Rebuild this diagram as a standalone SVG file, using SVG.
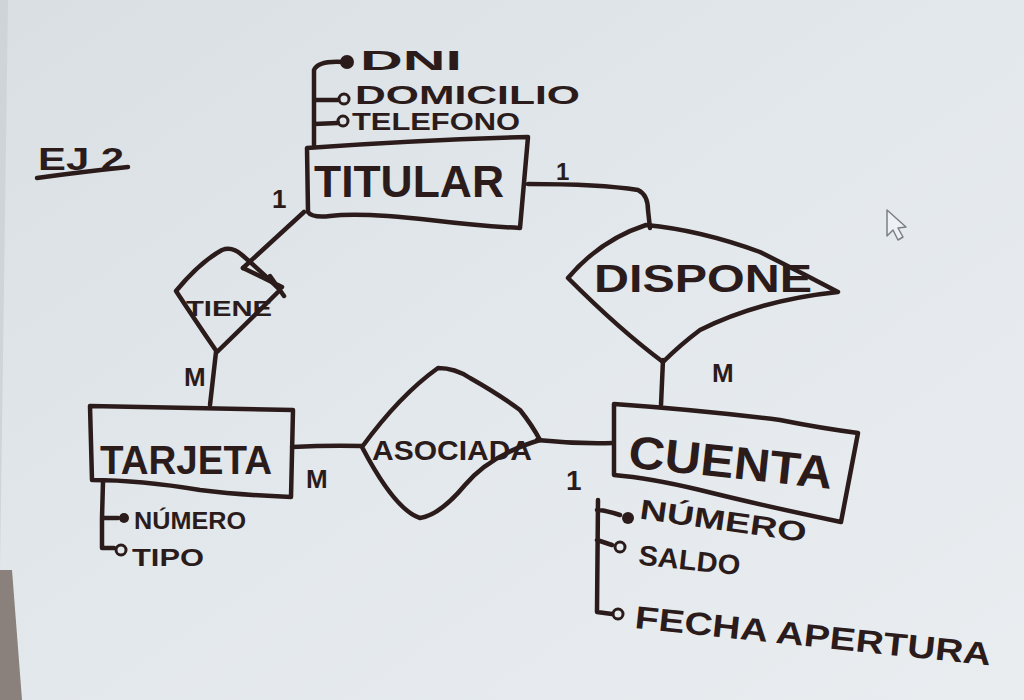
<svg xmlns="http://www.w3.org/2000/svg" width="1024" height="700" viewBox="0 0 1024 700">
<defs>
<linearGradient id="bg" x1="0" y1="0" x2="1" y2="1">
<stop offset="0" stop-color="#d9dfe3"/>
<stop offset="0.5" stop-color="#e3e8ec"/>
<stop offset="1" stop-color="#e9edf0"/>
</linearGradient>
<style>
.ink{fill:none;stroke:#2b1c1b;stroke-width:4.5;stroke-linecap:round;stroke-linejoin:round}
.t{font-family:"Liberation Sans",Arial,sans-serif;font-weight:bold;fill:#2b1c1b}
.dot{fill:#2b1c1b}
.hol{fill:none;stroke:#2b1c1b;stroke-width:3}
</style>
</defs>
<rect width="1024" height="700" fill="url(#bg)"/>
<polygon points="0,570 12,570 22,700 0,700" fill="#8a807c"/>
<polygon points="0,0 8,0 0,570" fill="#cfd4d8"/>

<g id="title">
<text class="t" x="38" y="170" font-size="32" textLength="86" lengthAdjust="spacingAndGlyphs">EJ 2</text>
<path class="ink" d="M37,178 Q80,172 128,167"/>
</g>

<g id="connectors">
<path class="ink" d="M528,184 Q600,184 638,190 Q648,195 648,210 L650,228"/>
<path class="ink" d="M663,360 L661,405"/>
<path class="ink" d="M304,212 L243,268"/>
<path class="ink" d="M243,268 L282,287 M270,276 L284,296"/>
<path class="ink" d="M216,352 L210,405"/>
<path class="ink" d="M292,447 Q330,445 362,446"/>
<path class="ink" d="M537,440 Q575,444 613,443"/>
</g>

<g id="cardinalities">
<text class="t" x="272" y="208" font-size="26">1</text>
<text class="t" x="556" y="180" font-size="24">1</text>
<text class="t" x="184" y="386" font-size="26">M</text>
<text class="t" x="712" y="382" font-size="26">M</text>
<text class="t" x="306" y="488" font-size="26">M</text>
<text class="t" x="566" y="490" font-size="28">1</text>
</g>

<g id="titular">
<path class="ink" d="M307,148 Q420,140 528,137 L520,228 Q480,226 430,220 Q360,212 330,216 Q312,218 308,212 Z"/>
<text class="t" x="314" y="197" font-size="44" textLength="190" lengthAdjust="spacingAndGlyphs">TITULAR</text>
</g>

<g id="titular-attrs">
<path class="ink" d="M345,62 Q318,60 314,70 L314,145 M314,100 L338,100 M314,124 L338,123"/>
<circle class="dot" cx="347" cy="62" r="7"/>
<circle class="hol" cx="344" cy="99" r="5"/>
<circle class="hol" cx="343" cy="121" r="5"/>
<text class="t" x="360" y="70" font-size="28" textLength="102" lengthAdjust="spacingAndGlyphs">DNI</text>
<text class="t" x="355" y="104" font-size="26" textLength="225" lengthAdjust="spacingAndGlyphs">DOMICILIO</text>
<text class="t" x="352" y="130" font-size="23" textLength="168" lengthAdjust="spacingAndGlyphs">TELEFONO</text>
</g>

<g id="tiene">
<path class="ink" d="M176,291 Q200,262 222,250 Q232,246 242,255 Q262,272 280,290 Q250,320 217,352 Q195,320 176,291 Z"/>
<text class="t" x="186" y="316" font-size="22" textLength="86" lengthAdjust="spacingAndGlyphs">TIENE</text>
</g>

<g id="dispone">
<path class="ink" d="M568,278 Q600,240 646,225 Q700,230 760,252 Q800,272 838,292 Q760,300 700,330 Q680,345 663,362 Q620,330 568,278 Z"/>
<text class="t" x="594" y="292" font-size="38" textLength="218" lengthAdjust="spacingAndGlyphs">DISPONE</text>
</g>

<g id="tarjeta">
<path class="ink" d="M90,406 Q190,408 293,410 L291,497 Q240,495 200,490 Q140,480 92,480 Z"/>
<text class="t" x="100" y="474" font-size="40" textLength="172" lengthAdjust="spacingAndGlyphs">TARJETA</text>
</g>

<g id="tarjeta-attrs">
<path class="ink" d="M103,482 L102,518 L118,518 M102,518 L102,548 L114,548"/>
<circle class="dot" cx="124" cy="518" r="5"/>
<circle class="hol" cx="121" cy="550" r="5"/>
<text class="t" x="134" y="529" font-size="24" textLength="112" lengthAdjust="spacingAndGlyphs">NÚMERO</text>
<text class="t" x="132" y="566" font-size="24" textLength="72" lengthAdjust="spacingAndGlyphs">TIPO</text>
</g>

<g id="asociada">
<path class="ink" d="M362,447 Q400,395 438,368 Q455,368 470,378 Q500,395 520,410 Q532,425 540,440 Q490,455 465,485 Q440,515 420,518 Q395,510 362,447 Z"/>
<text class="t" x="372" y="460" font-size="28" textLength="160" lengthAdjust="spacingAndGlyphs">ASOCIADA</text>
</g>

<g id="cuenta">
<path class="ink" d="M614,404 Q700,410 780,420 Q820,428 858,433 L841,522 Q760,505 700,490 Q650,478 614,475 Z"/>
<text class="t" x="628" y="478" font-size="46" textLength="205" lengthAdjust="spacingAndGlyphs" transform="rotate(6 730 465)">CUENTA</text>
</g>

<g id="cuenta-attrs">
<path class="ink" d="M598,500 L597,612 L612,614 M597,510 Q605,510 620,515 M597,540 L612,545"/>
<circle class="dot" cx="628" cy="518" r="6"/>
<circle class="hol" cx="620" cy="547" r="5"/>
<circle class="hol" cx="618" cy="614" r="5"/>
<text class="t" x="638" y="530" font-size="28" textLength="168" lengthAdjust="spacingAndGlyphs" transform="rotate(8 720 530)">NÚMERO</text>
<text class="t" x="638" y="570" font-size="28" textLength="102" lengthAdjust="spacingAndGlyphs" transform="rotate(6 690 565)">SALDO</text>
<text class="t" x="634" y="628" font-size="32" textLength="358" lengthAdjust="spacingAndGlyphs" transform="rotate(6 634 628)">FECHA APERTURA</text>
</g>

<g id="cursor">
<path d="M887,210 L887,236 L893,230 L898,240 L903,237 L898,228 L906,227 Z" fill="#eef1f3" stroke="#7c8084" stroke-width="1.5" stroke-linejoin="round"/>
</g>
</svg>
